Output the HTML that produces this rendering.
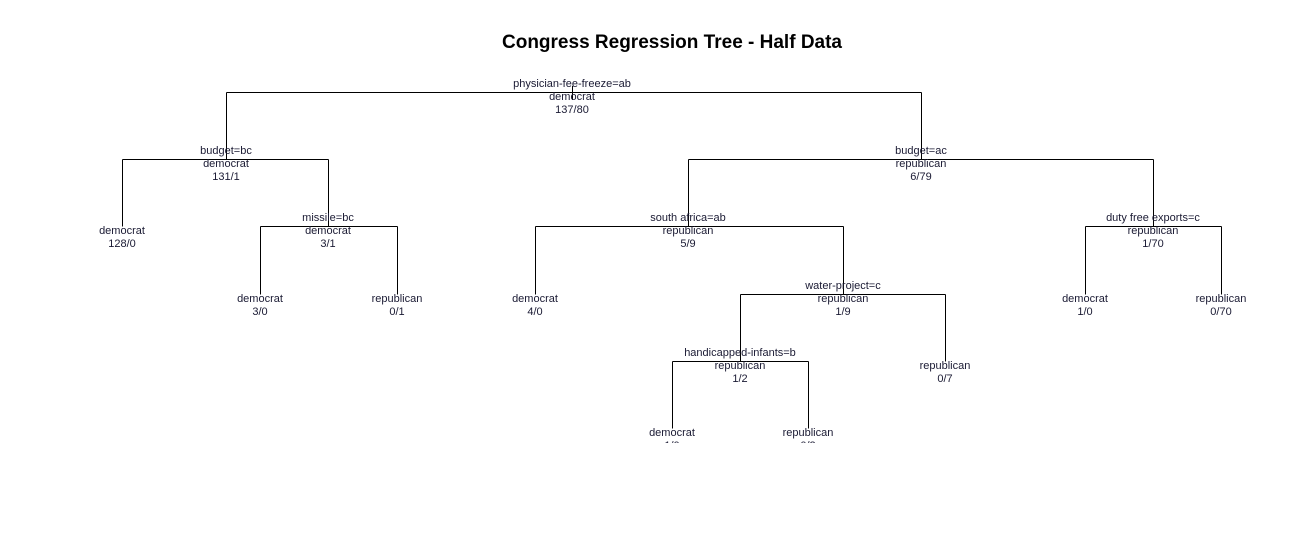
<!DOCTYPE html>
<html><head><meta charset="utf-8"><style>
body{margin:0;background:#fff}
svg{display:block}
text{font-family:"Liberation Sans",Arial,sans-serif;font-size:11px;fill:#1a1a33;text-anchor:middle}
</style></head><body>
<svg id="chart" width="1306" height="539">
<text x="672" y="48" style="font-size:19px;font-weight:bold;fill:#000">Congress Regression Tree - Half Data</text>
<defs><clipPath id="clip"><rect x="0" y="0" width="1306" height="443"/></clipPath></defs>
<g id="tree" clip-path="url(#clip)"></g>
</svg>
<script>
const nodeIds=[0,1,2,3,4,5,6,7,8,9,10,11,12,13,14,15,16];
const parents=[-1,0,1,1,3,3,0,6,7,7,9,10,10,9,6,14,14];
const splits=["physician-fee-freeze=ab","budget=bc","","missile=bc","","","budget=ac","south africa=ab","","water-project=c","handicapped-infants=b","","","","duty free exports=c","",""];
const classes=["democrat","democrat","democrat","democrat","democrat","republican","republican","republican","democrat","republican","republican","democrat","republican","republican","republican","democrat","republican"];
const counts=["137/80","131/1","128/0","3/1","3/0","0/1","6/79","5/9","4/0","1/9","1/2","1/0","0/2","0/7","1/70","1/0","0/70"];
const depths=[0,1,2,2,3,3,1,2,3,3,4,5,5,4,2,3,3];
const xpos=[572,226,122,328,260,397,921,688,535,843,740,672,808,945,1153,1085,1221];
const levelY=d=>92+d*67.2;
const g=document.getElementById('tree');
const NS='http://www.w3.org/2000/svg';
function line(x1,y1,x2,y2,name){const l=document.createElementNS(NS,'line');l.setAttribute('x1',x1);l.setAttribute('y1',y1);l.setAttribute('x2',x2);l.setAttribute('y2',y2);l.setAttribute('stroke','#000');l.setAttribute('stroke-width','1');


g.appendChild(l);}
function txt(x,y,s,name){const t=document.createElementNS(NS,'text');t.setAttribute('x',x);t.setAttribute('y',y);t.textContent=s;


g.appendChild(t);}
nodeIds.forEach(i=>{
  const y=levelY(depths[i]);
  const kids=nodeIds.filter(j=>parents[j]===i);
  if(kids.length){
    line(xpos[kids[0]]+0.5,Math.round(y)+0.5,xpos[kids[kids.length-1]]+0.5,Math.round(y)+0.5,'branch-line');
    kids.forEach(k=>line(xpos[k]+0.5,Math.round(y)+0.5,xpos[k]+0.5,Math.round(levelY(depths[k]))+0.5,'edge-line'));
  }
  if(i===0) line(xpos[0]+0.5,86,xpos[0]+0.5,100,'root-tick');
});
nodeIds.forEach(i=>{
  const y=Math.round(levelY(depths[i]));
  if(splits[i]) txt(xpos[i],y-5,splits[i],'split-label');
  txt(xpos[i],y+8,classes[i],'class-label');
  txt(xpos[i],y+21,counts[i],'count-label');
});
</script>
</body></html>
